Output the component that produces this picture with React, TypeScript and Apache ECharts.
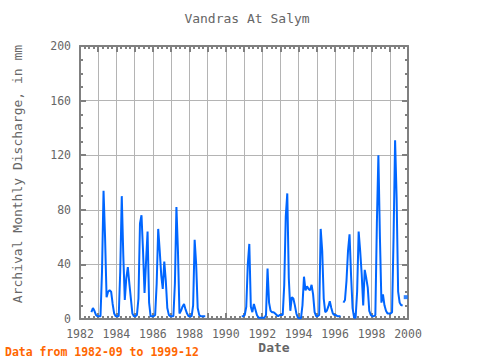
import React, { useEffect, useRef } from "react";
import * as echarts from "echarts";

// Monthly discharge (mm), series starts 1982-09
const startYear = 1982;
const startMonth = 9;
const q1982 = [5, 8, 6, 3];
const q1983 = [2, 2, 2, 35, 94, 60, 16, 20, 21, 20, 11, 4];
const q1984 = [2, 2, 2, 35, 90, 47, 14, 30, 38, 26, 15, 4];
const q1985 = [2, 2, 3, 15, 70, 76, 50, 19, 42, 64, 12, 2];
const q1986 = [2, 2, 3, 26, 66, 50, 32, 22, 42, 28, 8, 3];
const q1987 = [2, 2, 2, 26, 82, 50, 4, 6, 9, 11, 7, 4];
const q1988 = [2, 2, 2, 10, 58, 40, 8, 3, 2, 2, 2, 2];
const q1989 = [null, null, null, null, null, null, null, null, null, null, null, null];
const q1990 = [null, null, null, null, null, null, null, null, null, null, null, 2];
const q1991 = [2, 3, 9, 40, 55, 9, 5, 11, 7, 3, 1, 1];
const q1992 = [1, 1, 1, 3, 37, 12, 6, 5, 5, 4, 3, 2];
const q1993 = [3, 3, 3, 25, 75, 92, 30, 6, 16, 15, 10, 4];
const q1994 = [1, 0.5, 0.5, 10, 31, 21, 24, 22, 21, 25, 18, 5];
const q1995 = [2, 2, 3, 66, 50, 15, 5, 6, 9, 13, 8, 4];
const q1996 = [3, 3, 2, 2, 2, null, 12, 14, 28, 50, 62, 32];
const q1997 = [8, 1, 1, 20, 64, 50, 33, 10, 36, 30, 23, 6];
const q1998 = [3, 2, 2, 3, 70, 120, 60, 12, 18, 10, 6, 4];
const q1999 = [4, 4, 5, 60, 131, 89, 20, 12, 10, 10, null, 16];

const xTickLabels = ["1982", "1984", "1986", "1988", "1990", "1992", "1994", "1996", "1998", "2000"];
const yTickValues = [0, 40, 80, 120, 160, 200];

const titleText = "Vandras At Salym";
const yTitle = "Archival Monthly Discharge, in mm";
const xTitle = "Date";
const footerText = "Data from 1982-09 to 1999-12";

const MONO = "'DejaVu Sans Mono', monospace";
const AXIS = "#808080";
const GRIDC = "#b4b4b4";
const LINE = "#0066ff";

export default function App() {
  const ref = useRef<HTMLDivElement>(null);
  useEffect(() => {
    if (!ref.current) return;
    const chart = echarts.init(ref.current, null, { renderer: "svg" });
    const all = [
      ...q1982, ...q1983, ...q1984, ...q1985, ...q1986, ...q1987, ...q1988, ...q1989,
      ...q1990, ...q1991, ...q1992, ...q1993, ...q1994, ...q1995, ...q1996, ...q1997,
      ...q1998, ...q1999,
    ];
    const m0Start = startMonth - 1;
    const pts = all.map((v, i) => {
      const m0 = m0Start + i;
      return [startYear + (m0 - 0.5) / 12, v];
    });
    const isolated = pts.filter((p, i) => {
      if (p[1] == null) return false;
      const prev = i > 0 ? all[i - 1] : null;
      const next = i < all.length - 1 ? all[i + 1] : null;
      return prev == null && next == null;
    });

    const xAxisBase = {
      type: "value",
      min: 1982,
      max: 2000,
      interval: 1,
      axisLine: { show: true, onZero: false, lineStyle: { color: AXIS, width: 2 } },
      axisTick: { show: true, inside: true, length: 6, lineStyle: { color: AXIS, width: 2 } },
      minorTick: { show: true, splitNumber: 4, length: 3, lineStyle: { color: AXIS, width: 2 } },
    };
    const yAxisBase = {
      type: "value",
      min: 0,
      max: 200,
      interval: 40,
      axisLine: { show: true, onZero: false, lineStyle: { color: AXIS, width: 2 } },
      axisTick: { show: true, inside: true, length: 6, lineStyle: { color: AXIS, width: 2 } },
      minorTick: { show: true, splitNumber: 4, length: 3, lineStyle: { color: AXIS, width: 2 } },
    };

    chart.setOption({
      animation: false,
      grid: { left: 80, right: 72, top: 46, bottom: 41, containLabel: false },
      xAxis: [
        {
          ...xAxisBase,
          position: "bottom",
          axisLabel: {
            formatter: (v: number) => {
              const s = String(Math.round(v));
              return xTickLabels.includes(s) ? s : "";
            },
            fontFamily: MONO,
            fontSize: 11.5,
            color: "#666",
            margin: 9,
          },
          splitLine: { show: true, lineStyle: { color: GRIDC, width: 1 } },
        },
        {
          ...xAxisBase,
          position: "top",
          axisLabel: { show: false },
          splitLine: { show: false },
        },
      ],
      yAxis: [
        {
          ...yAxisBase,
          position: "left",
          axisLabel: {
            formatter: (v: number) => (yTickValues.includes(v) ? String(v) : ""),
            fontFamily: MONO,
            fontSize: 11.5,
            color: "#666",
            margin: 9,
          },
          splitLine: { show: true, lineStyle: { color: GRIDC, width: 1 } },
        },
        {
          ...yAxisBase,
          position: "right",
          axisLabel: { show: false },
          splitLine: { show: false },
        },
      ],
      series: [
        {
          type: "line",
          data: pts,
          xAxisIndex: 0,
          yAxisIndex: 0,
          symbol: "none",
          showSymbol: false,
          connectNulls: false,
          lineStyle: { color: LINE, width: 2 },
          itemStyle: { color: LINE },
          z: 5,
        },
        {
          type: "scatter",
          data: isolated,
          xAxisIndex: 0,
          yAxisIndex: 0,
          symbol: "rect",
          symbolSize: 4,
          itemStyle: { color: LINE },
          z: 6,
        },
      ],
      graphic: [
        {
          type: "text",
          x: 247,
          y: 18,
          style: { text: titleText, font: `13px ${MONO}`, fill: "#666", align: "center", verticalAlign: "middle" },
        },
        {
          type: "text",
          x: 17,
          y: 174,
          rotation: Math.PI / 2,
          style: { text: yTitle, font: `13px ${MONO}`, fill: "#666", align: "center", verticalAlign: "middle" },
        },
        {
          type: "text",
          x: 274,
          y: 347,
          style: { text: xTitle, font: `bold 13px ${MONO}`, fill: "#666", align: "center", verticalAlign: "middle" },
        },
        {
          type: "text",
          x: 5,
          y: 352,
          style: { text: footerText, font: `bold 11.5px ${MONO}`, fill: "#ff6600", align: "left", verticalAlign: "middle" },
        },
      ],
    });
    return () => chart.dispose();
  }, []);
  return <div ref={ref} style={{ width: 480, height: 360, position: "absolute", left: 0, top: 0 }} />;
}
